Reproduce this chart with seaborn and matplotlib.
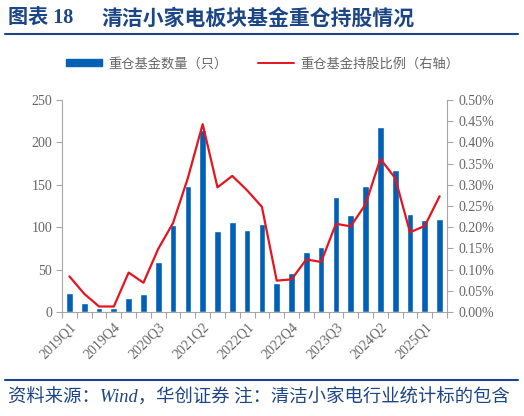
import numpy as np
import pandas as pd
import matplotlib
matplotlib.use("Agg")
import matplotlib.pyplot as plt
import seaborn as sns
from matplotlib.lines import Line2D
from matplotlib.patches import Patch

sns.set_theme(style="white")
plt.rcParams['font.family'] = ['Liberation Serif', 'Noto Sans CJK SC', 'DejaVu Sans']

quarters = [f"{y}Q{q}" for y in range(2019, 2026) for q in range(1, 5)][:26]
fund_counts = [22, 11, 5, 5, 16, 21, 59, 103, 149, 215, 95, 106, 97, 104,
               34, 46, 71, 77, 136, 114, 149, 218, 168, 116, 109, 110]
hold_ratio = [0.084, 0.043, 0.013, 0.013, 0.093, 0.069, 0.149, 0.210, 0.316, 0.443,
              0.294, 0.321, 0.287, 0.248, 0.074, 0.077, 0.124, 0.118, 0.208, 0.202,
              0.254, 0.361, 0.316, 0.188, 0.203, 0.273]

title_prefix = "图表 18"
title_main = "清洁小家电板块基金重仓持股情况"
bar_label = "重仓基金数量（只）"
line_label = "重仓基金持股比例（右轴）"
source_text = "资料来源：Wind，华创证券 注：清洁小家电行业统计标的包含"

BLUE = "#0060B6"
RED = "#E6141E"
NAVY = "#1B4584"
GRAY = "#666666"
SPINE = "#A6A6A6"

df = pd.DataFrame({"quarter": quarters, "count": fund_counts, "ratio": hold_ratio})
df["pos"] = np.arange(len(df))

fig = plt.figure(figsize=(5.24, 4.16), dpi=100)
ax = fig.add_axes([62/524, 1-312/416, (447-62)/524, (312-100)/416])

sns.barplot(data=df, x="quarter", y="count", color=BLUE, saturation=1,
            width=0.45, ax=ax)
ax2 = ax.twinx()
sns.lineplot(data=df, x="pos", y="ratio", color=RED, linewidth=1.6, ax=ax2)

ax.set_xlim(-0.5, len(df) - 0.5)
ax.set_ylim(0, 250)
ax.set_yticks(np.arange(0, 251, 50))
ax2.set_ylim(0, 0.5)
ax2.set_yticks(np.arange(0, 0.501, 0.05))
ax2.set_yticklabels([f"{v:.2f}%" for v in np.arange(0, 0.501, 0.05)])

ax.set_xlabel("")
ax.set_ylabel("")
ax2.set_xlabel("")
ax2.set_ylabel("")

# x ticks: boundaries as minor ticks, labels every 3 quarters
ax.set_xticks(np.arange(-0.5, len(df), 1.0), minor=True)
ax.set_xticks(np.arange(0, len(df), 3))
ax.set_xticklabels(quarters[::3], rotation=45, ha="right", rotation_mode="anchor",
                   fontsize=10, color=GRAY)
ax.tick_params(axis="x", which="major", length=0, pad=6)
ax.tick_params(axis="x", which="minor", length=4, color=SPINE, width=0.8, direction="out")
ax.tick_params(axis="y", length=4, color=SPINE, width=0.8, direction="out",
               labelsize=10, labelcolor=GRAY, pad=3)
ax2.tick_params(axis="y", length=4, color=SPINE, width=0.8, direction="out",
                labelsize=10, labelcolor=GRAY, pad=4)
ax.xaxis.set_tick_params(bottom=True, which="minor")

for a in (ax, ax2):
    a.spines["top"].set_visible(False)
    for s in ("left", "right", "bottom"):
        a.spines[s].set_color(SPINE)
        a.spines[s].set_linewidth(0.8)
    a.grid(False)
ax.spines["right"].set_visible(False)
ax2.spines["left"].set_visible(False)
ax2.spines["bottom"].set_visible(False)

# Title
fig.text(8/524, 1-18/416, title_prefix, fontsize=14.5, fontweight="bold", color=NAVY,
         va="center", ha="left", family=['Liberation Serif', 'Noto Sans CJK SC'])
fig.text(101/524, 1-18/416, title_main, fontsize=15, fontweight="bold", color=NAVY,
         va="center", ha="left", family=['Noto Sans CJK SC'])
fig.add_artist(Line2D([5/524, 518/524], [1-34/416, 1-34/416], color=NAVY, linewidth=1.5))

# Legend
handles = [Patch(facecolor=BLUE, edgecolor=BLUE),
           Line2D([0], [0], color=RED, linewidth=1.4)]
leg = fig.legend(handles, [bar_label, line_label], loc="center",
                 bbox_to_anchor=(263/524, 1-64/416), ncol=2, frameon=False,
                 prop={"family": ['Noto Sans CJK SC'], "size": 9.5},
                 handlelength=2.7, handleheight=0.45, columnspacing=2.3,
                 handletextpad=0.5, labelcolor=GRAY)

# Bottom line and source
fig.add_artist(Line2D([5/524, 518/524], [1-380/416, 1-380/416], color=NAVY, linewidth=1.5))
fig.text(8/524, 1-398/416, source_text, fontsize=13.2, color=NAVY, style="italic",
         va="center", ha="left", family=['Liberation Serif', 'Noto Sans CJK SC'])

fig.savefig("out.png", dpi=100)
